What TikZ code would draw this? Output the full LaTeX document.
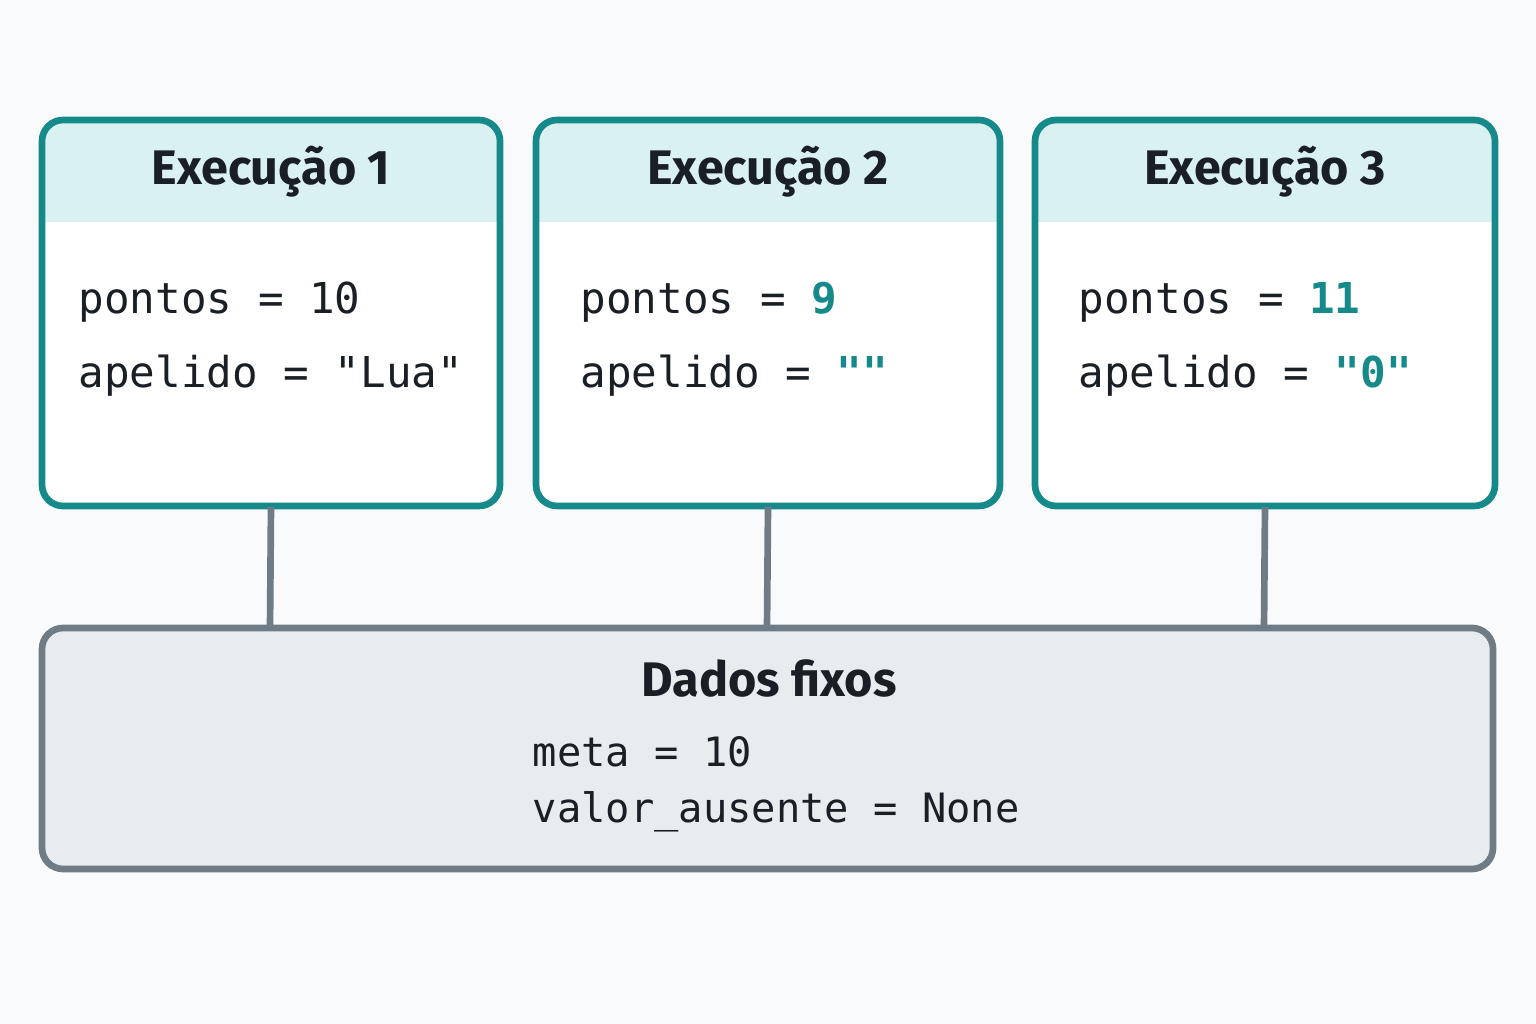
\documentclass[tikz,border=0pt]{standalone}
\usepackage{fontspec}
\setmainfont{Fira Sans}
\setmonofont{DejaVu Sans Mono}
\usetikzlibrary{positioning,calc}
\definecolor{runteal}{HTML}{16898A}
\definecolor{headfill}{HTML}{D9F1F1}
\definecolor{linkgray}{HTML}{6F7C86}
\definecolor{fixedfill}{HTML}{E9ECEF}
\definecolor{pagebg}{HTML}{F9FAFB}
\definecolor{inktext}{HTML}{1A1F26}

\begin{document}
\begin{tikzpicture}[x=0.01cm,y=0.01cm,
    headtext/.style={font=\fontsize{13.8}{16}\selectfont\bfseries, text=inktext},
    codetext/.style={font=\ttfamily\fontsize{12.1}{15}\selectfont, text=inktext, anchor=west, inner sep=0pt},
    fixtext/.style={codetext, font=\ttfamily\fontsize{11.5}{14}\selectfont}]
    % page
    \fill[pagebg] (0,0) rectangle (1536,1024);
    \useasboundingbox (0,0) rectangle (1536,1024);

    % Execution boxes
    \foreach \n/\xl/\xr in {1/42/500, 2/536/1000, 3/1035/1495} {
        \fill[white, rounded corners=6pt] (\xl,518) rectangle (\xr,904);
        \fill[headfill, rounded corners=6pt] (\xl,802) rectangle (\xr,904);
        \fill[headfill] (\xl,802) rectangle (\xr,850);
        \draw[runteal, line width=1.9pt, rounded corners=6pt] (\xl,518) rectangle (\xr,904);
        \coordinate (run\n) at ({(\xl+\xr)/2},518);
        \node[headtext] (head\n) at ({(\xl+\xr)/2},852) {Execução \n};
    }

    % code lines
    \node[codetext] (pts1) at (78,722) {pontos = 10};
    \node[codetext] (ape1) at (78,648) {apelido = "Lua"};
    \node[codetext] (pts2) at (580,722) {pontos = \textcolor{runteal}{\bfseries 9}};
    \node[codetext] (ape2) at (580,648) {apelido = \textcolor{runteal}{\bfseries ""}};
    \node[codetext] (pts3) at (1078,722) {pontos = \textcolor{runteal}{\bfseries 11}};
    \node[codetext] (ape3) at (1078,648) {apelido = \textcolor{runteal}{\bfseries "0"}};

    % Fixed data
    \draw[linkgray, line width=1.9pt, fill=fixedfill, rounded corners=6pt] (42,155) rectangle (1493,396);
    \coordinate (fix1) at (270,396);
    \coordinate (fix2) at (767,396);
    \coordinate (fix3) at (1264,396);
    \node[headtext] (fixhead) at (769,346) {Dados fixos};
    \node[fixtext] (meta) at (532,272) {meta = 10};
    \node[fixtext] (miss) at (532,212) {valor\_ausente = None};

    % links
    \foreach \n in {1,2,3}
        \draw[linkgray, line width=1.9pt] (run\n |- 0,517) -- (fix\n);
\end{tikzpicture}
\end{document}
